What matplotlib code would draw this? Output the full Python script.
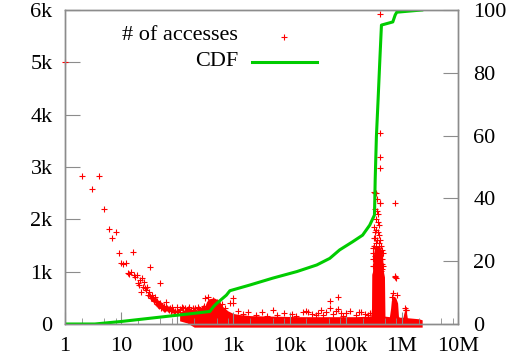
import numpy as np
import matplotlib
matplotlib.use('Agg')
import matplotlib.pyplot as plt
from matplotlib.lines import Line2D
from matplotlib.ticker import FixedLocator, NullFormatter

plt.rcParams['font.family'] = ['Liberation Serif', 'DejaVu Serif']
plt.rcParams['font.size'] = 16

# accesses per size, sparse part (one point per size)
small_x = [1, 2, 3, 4, 5, 6, 7, 8, 9, 10, 11, 12, 13, 14, 15, 16, 17, 18, 19,
           20, 21, 22, 23, 24, 25, 26, 27, 28, 29, 30, 31, 32, 33, 34, 35, 36,
           37, 38, 39, 40, 41, 42, 43, 44, 45, 46, 47, 48, 49, 50, 51, 52, 53,
           54, 55, 56, 57, 58, 59, 60, 62, 63, 64, 66, 68, 70, 72, 74, 76, 78,
           79, 80, 84, 88, 92, 97, 100, 104, 111, 127, 146, 179, 252]
small_y = [5000, 2830, 2580, 2830, 2190, 1810, 1640, 1760, 1360, 1170, 1140,
           1170, 970, 960, 1000, 1380, 930, 900, 940, 790, 745, 840, 620, 870,
           700, 810, 690, 650, 700, 560, 610, 1095, 540, 490, 555, 520, 490,
           460, 430, 520, 440, 420, 430, 380, 365, 410, 390, 350, 780, 400,
           360, 300, 330, 350, 310, 330, 300, 280, 350, 290, 420, 330, 300,
           300, 280, 260, 290, 300, 250, 240, 330, 260, 270, 230, 250, 330,
           240, 235, 268, 300, 268, 268, 268]

# dense region drawn as a solid band (lower / upper edge)
band_x = [110, 150, 200, 290, 330, 360, 450, 550, 650, 800, 1000, 1300, 2000,
          5000, 15e3, 50e3, 150e3, 280e3, 288e3, 291e3, 300e3, 310e3, 330e3,
          400e3, 450e3, 470e3, 490e3, 500e3, 600e3, 630e3, 650e3, 700e3,
          780e3, 840e3, 870e3, 900e3, 1.05e6, 1.08e6, 1.12e6, 1.2e6, 1.25e6,
          2.0e6, 2.3e6]
band_lo = [60, 20] + [-60] * 41
band_hi = [230, 260, 270, 260, 420, 480, 500, 450, 330, 250, 200, 180, 160,
           150, 140, 140, 140, 150, 300, 950, 1000, 1300, 1500, 1500, 1350,
           1000, 900, 150, 140, 300, 450, 520, 500, 400, 150, 130, 130, 200,
           260, 240, 120, 100, 80]

# scattered points above the band
out_x = [310, 357, 437, 500, 860, 990, 980, 110, 120, 135, 140, 155, 165,
         160, 190, 200, 210, 230, 240, 260, 270, 290, 300, 620, 700,
         1200, 1500, 1800, 2500, 3200, 4000, 5000, 6000, 8000, 11e3, 13e3,
         17e3, 20e3, 21e3, 25e3, 30e3, 32e3, 36e3, 40e3, 45e3, 52e3, 52e3,
         60e3, 66e3, 73e3, 73e3, 82e3, 90e3, 103e3, 120e3, 150e3, 170e3,
         190e3, 220e3, 245e3, 268e3,
         325e3, 330e3, 345e3, 355e3, 330e3, 360e3, 340e3, 370e3, 325e3,
         350e3, 380e3, 335e3, 365e3, 395e3, 320e3, 345e3, 375e3, 410e3,
         330e3, 360e3, 390e3, 420e3, 315e3, 345e3, 405e3, 430e3, 403e3,
         404e3, 414e3, 440e3, 380e3, 340e3, 360e3, 400e3, 305e3, 455e3,
         310e3, 450e3, 320e3, 440e3, 300e3, 460e3, 350e3, 425e3, 390e3,
         335e3, 370e3, 410e3, 300e3, 445e3, 355e3, 385e3,
         404e3, 404e3, 404e3, 746e3, 746e3, 760e3, 800e3, 700e3, 820e3,
         660e3, 1.17e6, 1.2e6, 1.15e6]
out_y = [491, 522, 459, 426, 395, 491, 395, 280, 330, 250, 300, 280, 240,
         330, 300, 260, 300, 320, 280, 250, 290, 300, 350, 380, 300,
         250, 200, 230, 180, 220, 150, 260, 170, 210, 190, 160,
         230, 248, 235, 200, 180, 204, 260, 170, 220, 445, 300,
         190, 240, 522, 281, 210, 150, 204, 250, 180, 220,
         230, 200, 172, 204,
         2530, 2500, 2500, 2380, 2200, 2150, 2000, 1950, 1850,
         1800, 1750, 1650, 1600, 1550, 1500, 1450, 1400, 1350,
         1300, 1250, 1200, 1150, 1100, 1080, 1050, 1020, 2975,
         2306, 2318, 1414, 2100, 1200, 1120, 1300, 1250, 1350,
         1450, 1150, 1650, 1250, 1100, 1100, 1550, 1500, 1700,
         1750, 1380, 1600, 1350, 1050, 1180, 1900,
         5920, 3644, 3197, 2306, 917, 900, 873, 600, 560,
         520, 268, 268, 300]

# cumulative distribution (percent)
cdf_x = [1, 3.4, 10, 50, 100, 200, 380, 440, 500, 750, 865, 1950, 5000,
         13500, 30500, 52000, 78000, 133000, 200000, 268000, 325000, 330000,
         335000, 352000, 377000, 404000, 433000, 690000, 760000, 811000,
         2260000]
cdf_y = [0, 0, 0.8, 2.2, 2.8, 3.4, 4.0, 5.5, 6.5, 9.2, 10.6, 12.4, 14.6,
         16.7, 18.8, 20.9, 23.6, 26.2, 28.3, 31.5, 34.7, 40.0, 46.0, 59.7,
         71.3, 83.5, 95.2, 96.2, 98.4, 99.3, 100]

frame_col = '#8c8c8c'
red = '#ff0000'
green = '#00cc00'
W, H = 509, 356

fig = plt.figure(figsize=(W/100, H/100), dpi=100)
ax = fig.add_axes([65/W, 32/H, 393/W, 314/H])
ax2 = ax.twinx()

ax.fill_between(band_x, band_lo, band_hi, color=red, lw=0, clip_on=False)
ax.plot(small_x, small_y, ls='none', marker='+', color=red, ms=5, mew=0.8,
        clip_on=False)
ax.plot(out_x, out_y, ls='none', marker='+', color=red, ms=5, mew=0.8,
        clip_on=False)
ax2.plot(cdf_x, cdf_y, color=green, lw=2.2)

ax.set_xscale('log')
ax.set_xlim(1, 1e7)
ax.set_ylim(0, 6000)
ax2.set_ylim(0, 100)

ax.set_xticks([1, 10, 100, 1e3, 1e4, 1e5, 1e6, 1e7])
ax.set_xticklabels(['1', '10', '100', '1k', '10k', '100k', '1M', '10M'])
minors = [m * 10**d for d in range(7) for m in (2, 5, 8)]
ax.xaxis.set_minor_locator(FixedLocator(minors))
ax.xaxis.set_minor_formatter(NullFormatter())
ax.set_yticks([0, 1000, 2000, 3000, 4000, 5000, 6000])
ax.set_yticklabels(['0', '1k', '2k', '3k', '4k', '5k', '6k'])
ax2.set_yticks([0, 20, 40, 60, 80, 100])

for a in (ax, ax2):
    for s in a.spines.values():
        s.set_color(frame_col)
        s.set_linewidth(1.0)

ax.tick_params(axis='x', which='major', direction='in', length=8.5,
               color=frame_col, pad=9.5, top=False)
ax.tick_params(axis='x', which='minor', direction='in', length=4.5,
               color=frame_col, top=False)
ax.tick_params(axis='y', direction='in', length=10.8, color=frame_col,
               pad=9, right=False)
ax2.tick_params(axis='y', direction='in', length=10.8, color=frame_col,
                pad=11)

# key: label right-aligned, sample to its right
fig.text(238/W, 1 - 36/H, '# of accesses', ha='right', va='center')
fig.text(238/W, 1 - 61/H, 'CDF', ha='right', va='center')
fig.add_artist(Line2D([284/W], [1 - 37/H], ls='none', marker='+', color=red,
                      ms=5, mew=0.8, transform=fig.transFigure))
fig.add_artist(Line2D([252/W, 317/W], [1 - 62/H, 1 - 62/H], color=green,
                      lw=2.2, transform=fig.transFigure))

fig.savefig('out.png', dpi=100)
